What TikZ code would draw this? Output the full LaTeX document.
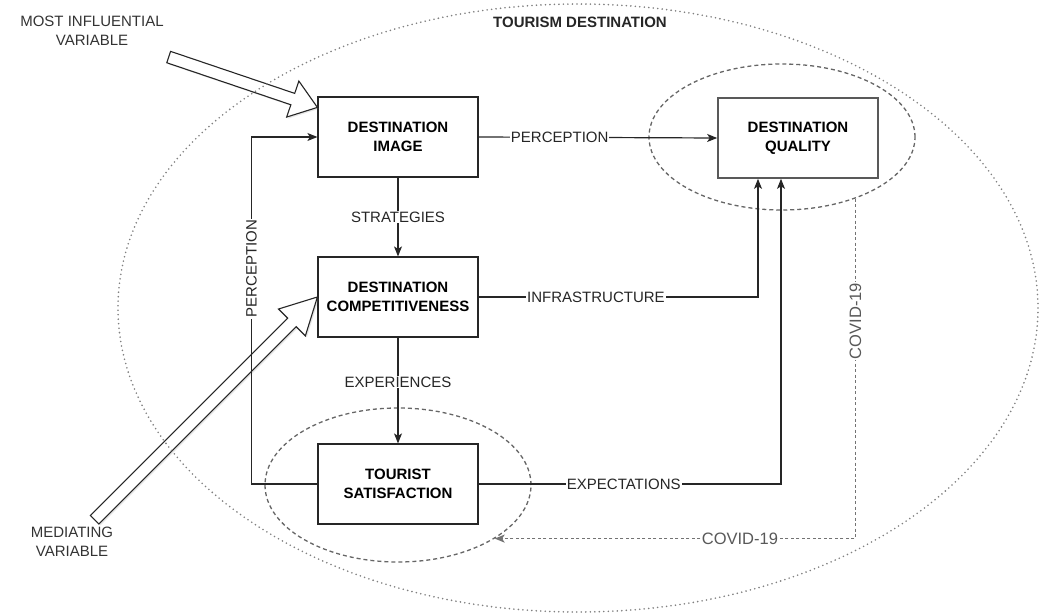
\documentclass[tikz,border=0pt]{standalone}
\usepackage{fontspec}
\setmainfont{Liberation Sans}
\usetikzlibrary{arrows.meta,shapes.geometric,shadows}

% hollow block arrow: tip, angle, length, head length
\newcommand{\bigarrow}[4]{%
  \draw[varrow, shift={(#1)}, rotate=#2] (0,0) -- (-#4,19) -- (-#4,6) -- (-#3,6)
    -- (-#3,-6) -- (-#4,-6) -- (-#4,-19) -- cycle;}

\begin{document}
\begin{tikzpicture}[x=1pt,y=1pt,
  box/.style={draw=black!85, line width=1.2pt, fill=white, minimum width=160pt,
    minimum height=80pt, align=center, font=\fontsize{15}{19}\selectfont\bfseries},
  link/.style={draw=black!85, line width=1.2pt, -{Stealth[length=10pt,width=8pt,inset=2.5pt]}},
  lbl/.style={fill=white, inner sep=1pt, text=black!85, font=\fontsize{15}{17}\selectfont},
  covlbl/.style={fill=white, inner sep=1pt, text=black!65, font=\fontsize{16.5}{19}\selectfont},
  zone/.style={ellipse, draw=black!60, dash pattern=on 4pt off 3pt, line width=1.3pt},
  covid/.style={draw=black!55, dash pattern=on 3pt off 2.5pt, line width=1.3pt,
    -{Stealth[length=10pt,width=8pt,inset=2.5pt]}},
  varrow/.style={draw=black!85, line width=1.1pt, fill=white,
    drop shadow={opacity=0.2, shadow xshift=1.5pt, shadow yshift=-1.5pt}},
  note/.style={align=center, text=black!80, font=\fontsize{15}{19}\selectfont}]
\useasboundingbox (0,0) rectangle (1045,614);

% groupings
\node[zone, minimum width=266pt, minimum height=146pt] (dqzone) at (782,477) {};
\node[zone, minimum width=266pt, minimum height=154pt] (tszone) at (398,129) {};

% factors
\node[box] (di) at (398,477) {DESTINATION\\IMAGE};
\node[box] (dc) at (398,317) {DESTINATION\\COMPETITIVENESS};
\node[box] (ts) at (398,130) {TOURIST\\SATISFACTION};
\node[box, draw=black!65, line width=1.7pt] (dq) at (798,476) {DESTINATION\\QUALITY};

% variables
\node[note] (mostinf) at (92,583) {MOST INFLUENTIAL\\VARIABLE};
\node[note] (mediating) at (72,72) {MEDIATING\\VARIABLE};
\bigarrow{[yshift=-11pt]di.north west}{-18.7}{157}{26}
\bigarrow{dc.west}{45}{315}{36}

% destination
\draw[black!50, line width=1.8pt, dash pattern=on 0pt off 4.5pt, line cap=round]
  (578,306) ellipse [x radius=460, y radius=304];
\node[font=\fontsize{15}{17}\selectfont\bfseries, text=black!85] (tourdest) at (580,592) {TOURISM DESTINATION};

\draw[link] (di.east) -- node[lbl, pos=0.34] {PERCEPTION} (dq.west);
\draw[link] (di.south) -- node[lbl] {STRATEGIES} (dc.north);
\draw[link] (dc.south) -- node[lbl, pos=0.42] {EXPERIENCES} (ts.north);
\draw[link] (dc.east) -| node[lbl, pos=0.21] {INFRASTRUCTURE} ([xshift=-40pt]dq.south);
\draw[link] (ts.east) -| node[lbl, pos=0.24] {EXPECTATIONS} ([xshift=-17pt]dq.south);
\draw[link] (ts.west) -- ++(-66,0) |- node[lbl, pos=0.31, rotate=90] {PERCEPTION} (di.west);

\draw[covid] (dqzone.-40) |- node[covlbl, pos=0.18, rotate=90] {COVID-19}
  node[covlbl, pos=0.66] {COVID-19} (tszone.-29);
\end{tikzpicture}
\end{document}
